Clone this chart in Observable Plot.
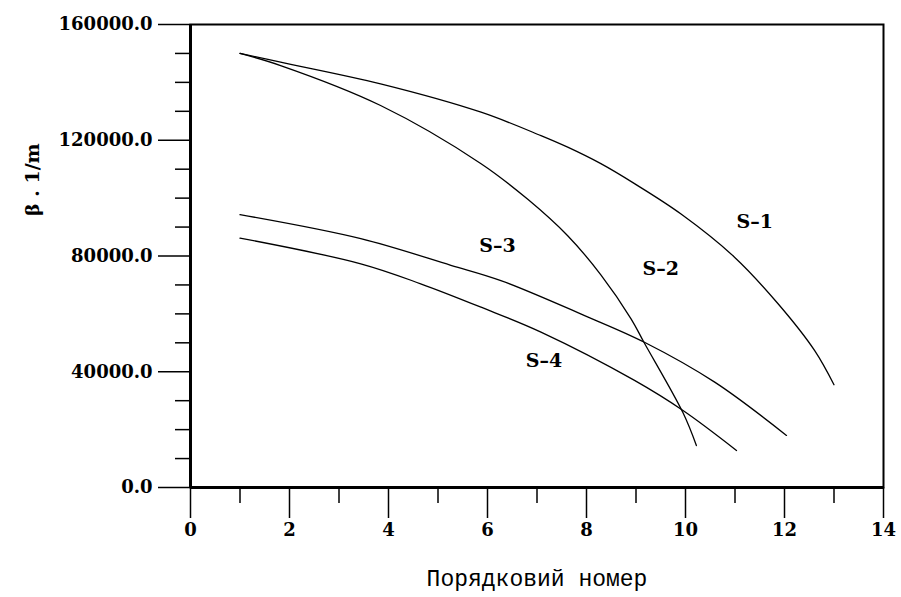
<!DOCTYPE html>
<html><head><meta charset="utf-8">
<script src="https://cdn.jsdelivr.net/npm/d3@7"></script>
<script src="https://cdn.jsdelivr.net/npm/@observablehq/plot@0.6"></script>
<style>body{margin:0;background:#fff}</style>
</head><body><div id="chart"></div>
<script>
// Series (x = sequence number, y = β, 1/m)
const s1X = [1, 1.82, 3.84, 5.87, 7.08, 7.62, 8.29, 8.97, 9.91, 10.99, 11.87, 12.61, 13.0];
const s1Y = [150000, 147000, 139500, 129700, 121600, 117600, 111900, 105000, 94500, 79600, 63500, 47300, 35500];
const s2X = [1, 1.82, 3.84, 5.87, 6.82, 7.62, 8.29, 8.9, 9.16, 9.95, 10.22];
const s2Y = [150000, 145800, 132000, 111900, 99500, 87000, 73500, 58300, 50200, 25800, 14500];
const s3X = [1, 3.44, 5.26, 6.27, 7.95, 9.17, 10.59, 12.04];
const s3Y = [94300, 86000, 76800, 71500, 59500, 50200, 36400, 18000];
const s4X = [1, 3.44, 4.65, 5.87, 7.08, 8.97, 9.95, 11.03];
const s4Y = [86200, 77300, 70400, 62300, 53700, 37000, 26600, 12800];
const seriesNames = ["S-1", "S-2", "S-3", "S-4"];

// Curve labels
const labelText = ["S–1", "S–2", "S–3", "S–4"];
const labelX = [11.4, 9.5, 6.2, 7.14];
const labelY = [91700, 75500, 83600, 43900];

// Ticks
const xMajor = [0, 2, 4, 6, 8, 10, 12, 14];
const xMinor = [1, 3, 5, 7, 9, 11, 13];
const yMajor = [0, 40000, 80000, 120000, 160000];
const yMinor = d3.range(0, 160001, 10000).filter(v => v % 40000 !== 0);

const xs = [s1X, s2X, s3X, s4X], ys = [s1Y, s2Y, s3Y, s4Y];
const rows = seriesNames.flatMap((s, k) => xs[k].map((x, i) => ({s, x, y: ys[k][i]})));

const plot = Plot.plot({
  width: 901, height: 597,
  marginLeft: 190, marginRight: 18, marginTop: 24, marginBottom: 110,
  style: {fontFamily: "'DejaVu Serif', serif", fontSize: "18px", fontWeight: "bold", background: "#fff", color: "#000"},
  x: {domain: [0, 14]},
  y: {domain: [0, 160000]},
  marks: [
    Plot.frame({stroke: "#000", strokeWidth: 2}),
    Plot.ruleX([0], {stroke: "#000", strokeWidth: 3}),
    Plot.ruleY([0], {stroke: "#000", strokeWidth: 3}),
    Plot.axisX({ticks: xMinor, tickSize: 16, tickFormat: () => "", label: null, strokeWidth: 1.5}),
    Plot.axisX({ticks: xMajor, tickSize: 31, tickPadding: 5, tickFormat: d => String(d), label: null, strokeWidth: 1.5}),
    Plot.axisY({ticks: yMinor, tickSize: 15, tickFormat: () => "", label: null, strokeWidth: 1.5}),
    Plot.axisY({ticks: yMajor, tickSize: 32, tickPadding: 6, tickFormat: d => d.toFixed(1), label: null, strokeWidth: 1.5}),
    Plot.line(rows, {x: "x", y: "y", z: "s", curve: "catmull-rom", stroke: "#000", strokeWidth: 1.3}),
    Plot.text(labelText, {x: (d, i) => labelX[i], y: (d, i) => labelY[i], fontSize: 19}),
    Plot.text(["Порядковий номер"], {frameAnchor: "bottom", dy: 98, fontFamily: "'Liberation Mono', monospace", fontSize: 23, fontWeight: "normal"}),
    Plot.text(["β . 1/m"], {frameAnchor: "left", dx: -158, dy: -40, rotate: -90, fontSize: 19})
  ]
});
document.getElementById("chart").appendChild(plot);
</script>
</body></html>
